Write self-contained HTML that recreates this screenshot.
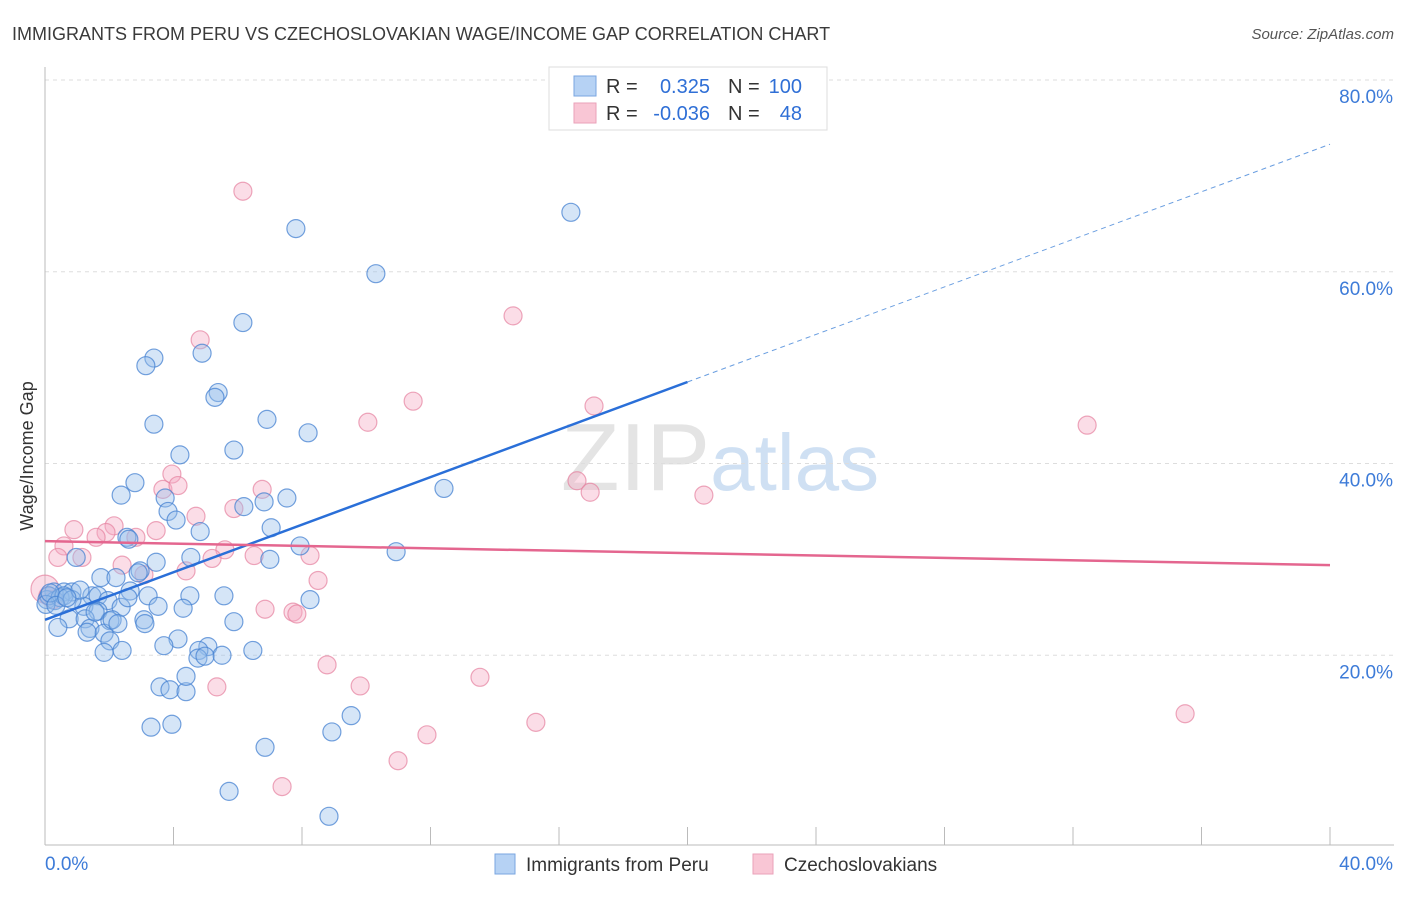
<!DOCTYPE html>
<html><head><meta charset="utf-8"><style>
body{margin:0;background:#fff;font-family:"Liberation Sans",sans-serif;}
svg text{font-family:"Liberation Sans",sans-serif;}
</style></head><body>
<svg id="chart" width="1406" height="892" xmlns="http://www.w3.org/2000/svg">
<text x="12" y="40" font-size="18" fill="#3a3a3a">IMMIGRANTS FROM PERU VS CZECHOSLOVAKIAN WAGE/INCOME GAP CORRELATION CHART</text>
<text x="1394" y="39" font-size="15" fill="#555" font-style="italic" text-anchor="end">Source: ZipAtlas.com</text>
<text x="720" y="490" font-size="96" text-anchor="middle" fill="#e4e4e4" font-family="Liberation Serif"><tspan>ZIP</tspan><tspan fill="#cfe0f3" font-family="Liberation Sans" font-size="80">atlas</tspan></text>
<g id="grid"></g><g id="axes"></g><g id="pts"></g><g id="lines"></g>
<text transform="translate(33,456) rotate(-90)" font-size="18" fill="#333" text-anchor="middle">Wage/Income Gap</text>
<g>
<rect x="549" y="67" width="278" height="63" fill="#fff" stroke="#ddd"/>
<rect x="574" y="76" width="22" height="20" fill="#b6d2f4" stroke="#7aa6e0"/>
<rect x="574" y="103" width="22" height="20" fill="#f9c6d5" stroke="#eaa2b9"/>
<text x="606" y="93" font-size="20" fill="#333">R =</text><text x="710" y="93" font-size="20" fill="#2f6fd6" text-anchor="end">0.325</text>
<text x="728" y="93" font-size="20" fill="#333">N =</text><text x="802" y="93" font-size="20" fill="#2f6fd6" text-anchor="end">100</text>
<text x="606" y="120" font-size="20" fill="#333">R =</text><text x="710" y="120" font-size="20" fill="#2f6fd6" text-anchor="end">-0.036</text>
<text x="728" y="120" font-size="20" fill="#333">N =</text><text x="802" y="120" font-size="20" fill="#2f6fd6" text-anchor="end">48</text>
</g>
<g>
<rect x="495" y="854" width="20" height="20" fill="#b6d2f4" stroke="#7aa6e0"/>
<text x="526" y="871" font-size="19" fill="#333">Immigrants from Peru</text>
<rect x="753" y="854" width="20" height="20" fill="#f9c6d5" stroke="#eaa2b9"/>
<text x="784" y="871" font-size="19" fill="#333">Czechoslovakians</text>
</g>
</svg>
<script>
const yTicks=[20,40,60,80];
const yTickLabels=["20.0%","40.0%","60.0%","80.0%"];
const xTickLabels=["0.0%","40.0%"];
const blueX=[16.37,7.81,10.30,6.16,4.89,3.39,3.14,5.39,5.29,3.39,6.91,8.19,4.20,5.88,12.42,2.80,2.37,7.53,6.82,3.74,6.19,3.83,4.08,7.04,4.83,2.55,2.61,7.94,10.93,0.97,4.54,7.00,3.46,2.96,2.90,1.74,2.21,0.28,0.59,0.84,1.46,1.65,2.65,3.21,4.51,5.57,8.25,1.96,0.06,0.31,1.21,2.37,3.52,4.30,1.65,0.75,1.25,2.02,3.08,5.88,1.40,1.84,1.31,0.40,4.14,2.02,3.70,5.07,4.79,1.84,2.40,5.51,6.47,4.76,4.98,3.58,3.89,4.39,4.39,9.53,3.95,3.30,8.93,6.85,5.73,8.84,0.12,0.47,0.59,0.03,0.16,2.09,2.27,3.11,2.58,0.84,1.09,1.56,0.34,0.68];
const blueY=[66.2,64.5,59.8,54.7,51.5,51.0,50.2,47.4,46.9,44.1,44.6,43.2,40.9,41.4,37.4,38.0,36.7,36.4,36.0,36.4,35.5,35.0,34.1,33.3,32.9,32.3,32.1,31.4,30.8,30.2,30.2,30.0,29.7,28.8,28.6,28.1,28.1,26.6,26.6,26.6,26.2,26.2,26.7,26.2,26.2,26.2,25.8,25.7,25.8,25.7,25.1,25.0,25.1,24.9,24.6,23.8,23.8,23.6,23.7,23.5,22.8,22.3,22.4,22.9,21.7,21.5,21.0,20.9,20.5,20.3,20.5,20.0,20.5,19.7,19.9,16.7,16.4,16.2,17.8,13.7,12.8,12.5,12.0,10.4,5.8,3.2,26.2,26.0,26.2,25.3,26.5,23.7,23.3,23.3,26.0,25.8,26.8,24.5,25.2,26.0];
const pinkX=[6.16,14.57,4.83,11.46,17.09,10.05,32.44,3.95,3.67,4.14,6.76,16.56,16.97,20.51,5.88,4.70,0.90,3.46,2.15,1.90,1.59,2.83,0.59,1.15,0.40,5.60,6.51,5.20,8.25,2.40,4.39,3.08,8.50,6.85,7.72,7.84,8.78,13.54,5.35,9.81,15.28,35.49,11.89,10.99,7.38,0,0.25,0.09];
const pinkY=[68.4,55.4,52.9,46.5,46.0,44.3,44.0,38.9,37.3,37.7,37.3,38.2,37.0,36.7,35.3,34.5,33.1,33.0,33.5,32.8,32.3,32.3,31.4,30.2,30.2,31.0,30.4,30.1,30.4,29.4,28.8,28.4,27.8,24.8,24.5,24.3,19.0,17.7,16.7,16.8,13.0,13.9,11.7,9.0,6.3,26.9,25.8,26.2];
const blueTrend=[23.7,1.24];
const pinkTrend=[31.9,-0.0625];
const X0=45,X1=1330,Y0=847,Y80=80;
const sx=v=>X0+(v/40)*(X1-X0);
const sy=v=>Y0-(v/80)*(Y0-Y80);
const NS="http://www.w3.org/2000/svg";
function mk(tag,attrs,parent){const e=document.createElementNS(NS,tag);for(const k in attrs)e.setAttribute(k,attrs[k]);document.getElementById(parent).appendChild(e);return e;}
yTicks.forEach((t,i)=>{
  const g=mk('line',{x1:45,x2:1394,y1:sy(t),y2:sy(t),stroke:'#ddd','stroke-dasharray':'4,4'},'grid');
  
  
  const l=mk('text',{x:1393,y:sy(t)+23,'font-size':19,fill:'#3d7bd8','text-anchor':'end'},'grid');
  l.textContent=yTickLabels[i];
  
  
});
const ax=mk('line',{x1:45,x2:45,y1:67,y2:845,stroke:'#bbb'},'axes');


const bx=mk('line',{x1:45,x2:1394,y1:845,y2:845,stroke:'#bbb'},'axes');


for(let i=0;i<=10;i++){
  const t=mk('line',{x1:sx(i*4),x2:sx(i*4),y1:827,y2:845,stroke:'#bbb'},'axes');
  
  
}
const xl0=mk('text',{x:45,y:870,'font-size':19,fill:'#3d7bd8'},'axes');xl0.textContent=xTickLabels[0];


const xl1=mk('text',{x:1393,y:870,'font-size':19,fill:'#3d7bd8','text-anchor':'end'},'axes');xl1.textContent=xTickLabels[1];


pinkX.forEach((x,i)=>{
  const c=mk('circle',{cx:sx(x),cy:sy(pinkY[i]),r:(i==45?14:9),fill:'rgba(245,170,195,0.4)',stroke:'rgba(230,130,160,0.7)','stroke-width':1.2},'pts');
  
  
});
blueX.forEach((x,i)=>{
  const c=mk('circle',{cx:sx(x),cy:sy(blueY[i]),r:9,fill:'rgba(150,190,235,0.4)',stroke:'rgba(70,130,210,0.75)','stroke-width':1.2},'pts');
  
  
});
const bt=x=>blueTrend[0]+blueTrend[1]*x, pt=x=>pinkTrend[0]+pinkTrend[1]*x;
const l1=mk('line',{x1:sx(0),y1:sy(bt(0)),x2:sx(20),y2:sy(bt(20)),stroke:'#2a6fd8','stroke-width':2.5},'lines');


const l2=mk('line',{x1:sx(20),y1:sy(bt(20)),x2:sx(40),y2:sy(bt(40)),stroke:'#6a9ee0','stroke-width':1,'stroke-dasharray':'5,4'},'lines');


const l3=mk('line',{x1:sx(0),y1:sy(pt(0)),x2:sx(40),y2:sy(pt(40)),stroke:'#e4668f','stroke-width':2.5},'lines');


</script>
</body></html>
